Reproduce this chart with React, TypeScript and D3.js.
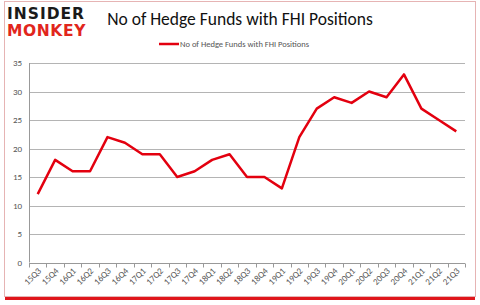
import React, { useEffect, useRef } from 'react';
import * as d3 from 'd3';

const quarters = ['15Q3', '15Q4', '16Q1', '16Q2', '16Q3', '16Q4', '17Q1', '17Q2', '17Q3', '17Q4',
  '18Q1', '18Q2', '18Q3', '18Q4', '19Q1', '19Q2', '19Q3', '19Q4', '20Q1', '20Q2', '20Q3', '20Q4',
  '21Q1', '21Q2', '21Q3'];
const funds = [12, 18, 16, 16, 22, 21, 19, 19, 15, 16, 18, 19, 15, 15, 13, 22, 27, 29, 28, 30, 29, 33, 27, 25, 23];
const yTicks = [0, 5, 10, 15, 20, 25, 30, 35];

const title = 'No of Hedge Funds with FHI Positions';

export default function App() {
  const ref = useRef<SVGSVGElement>(null);

  useEffect(() => {
    const svg = d3.select(ref.current);
    svg.selectAll('*').remove();
    const width = 480, height = 305;
    const margin = { top: 63, right: 15, bottom: 42, left: 29 };

    // frame
    svg.append('rect').attr('x', 5).attr('y', 296).attr('width', 470).attr('height', 4).attr('fill', '#e0161b');
    svg.append('rect').attr('x', 4.5).attr('y', 1.5).attr('width', 471).attr('height', 295)
      .attr('fill', '#fff').attr('stroke', '#e6b4b4');

    const x = d3.scaleBand().domain(quarters).range([margin.left, width - margin.right]);
    const y = d3.scaleLinear().domain([0, 35]).range([262.5, margin.top]);

    svg.append('g').selectAll('line').data(yTicks.slice(1)).join('line')
      .attr('x1', margin.left).attr('x2', width - margin.right)
      .attr('y1', d => Math.round(y(d)) + 0.5).attr('y2', d => Math.round(y(d)) + 0.5)
      .attr('stroke', '#b4b4b4');

    svg.append('g').selectAll('text').data(yTicks).join('text')
      .attr('x', 22).attr('y', d => y(d) + 3)
      .attr('text-anchor', 'end').attr('font-size', 9).attr('fill', '#555')
      .attr('font-family', 'Calibri, Carlito, "Liberation Sans", sans-serif')
      .text(d => d);

    svg.append('line').attr('x1', margin.left + 0.5).attr('x2', margin.left + 0.5)
      .attr('y1', margin.top).attr('y2', y(0)).attr('stroke', '#999');

    const xAxis = svg.append('g').attr('transform', `translate(0,${Math.round(y(0)) + 0.5})`);
    xAxis.append('line').attr('x1', margin.left).attr('x2', width - margin.right).attr('stroke', '#999');
    xAxis.selectAll('line.t').data(d3.range(quarters.length + 1)).join('line').attr('class', 't')
      .attr('x1', i => Math.round(margin.left + i * x.step()) + 0.5)
      .attr('x2', i => Math.round(margin.left + i * x.step()) + 0.5)
      .attr('y1', 0).attr('y2', 4).attr('stroke', '#999');
    xAxis.selectAll('text').data(quarters).join('text')
      .attr('transform', d => `translate(${x(d)! + x.bandwidth() / 2 + 4},8) rotate(-45)`)
      .attr('text-anchor', 'end').attr('font-size', 9).attr('fill', '#555')
      .attr('font-family', 'Calibri, Carlito, "Liberation Sans", sans-serif')
      .text(d => d);

    const line = d3.line<number>()
      .x((_, i) => x(quarters[i])! + x.bandwidth() / 2)
      .y(d => y(d));
    svg.append('path').datum(funds).attr('d', line)
      .attr('fill', 'none').attr('stroke', '#e3000f').attr('stroke-width', 2.5)
      .attr('stroke-linejoin', 'round');

    // title
    svg.append('text').attr('x', 240).attr('y', 25).attr('text-anchor', 'middle')
      .attr('font-size', 17.5).attr('fill', '#111')
      .attr('font-family', 'Calibri, Carlito, "Open Sans", sans-serif')
      .text(title);

    // legend
    svg.append('line').attr('x1', 159).attr('x2', 179).attr('y1', 44).attr('y2', 44)
      .attr('stroke', '#e3000f').attr('stroke-width', 2.5);
    svg.append('text').attr('x', 180).attr('y', 47).attr('font-size', 8.5).attr('fill', '#555')
      .attr('font-family', 'Calibri, Carlito, "Liberation Sans", sans-serif')
      .text(title);

    // logo
    svg.append('text').attr('x', 7).attr('y', 19).attr('font-size', 15.5).attr('font-weight', 900)
      .attr('fill', '#1a1a1a').attr('letter-spacing', 1)
      .attr('font-family', '"DejaVu Sans", sans-serif').text('INSIDER');
    svg.append('text').attr('x', 7).attr('y', 36).attr('font-size', 15.5).attr('font-weight', 900)
      .attr('fill', '#e1261c').attr('letter-spacing', 0.6)
      .attr('font-family', '"DejaVu Sans", sans-serif').text('MONKEY');
  }, []);

  return (
    <svg ref={ref} width={480} height={305}
      style={{ position: 'absolute', left: 0, top: 0, background: '#fff' }} />
  );
}
